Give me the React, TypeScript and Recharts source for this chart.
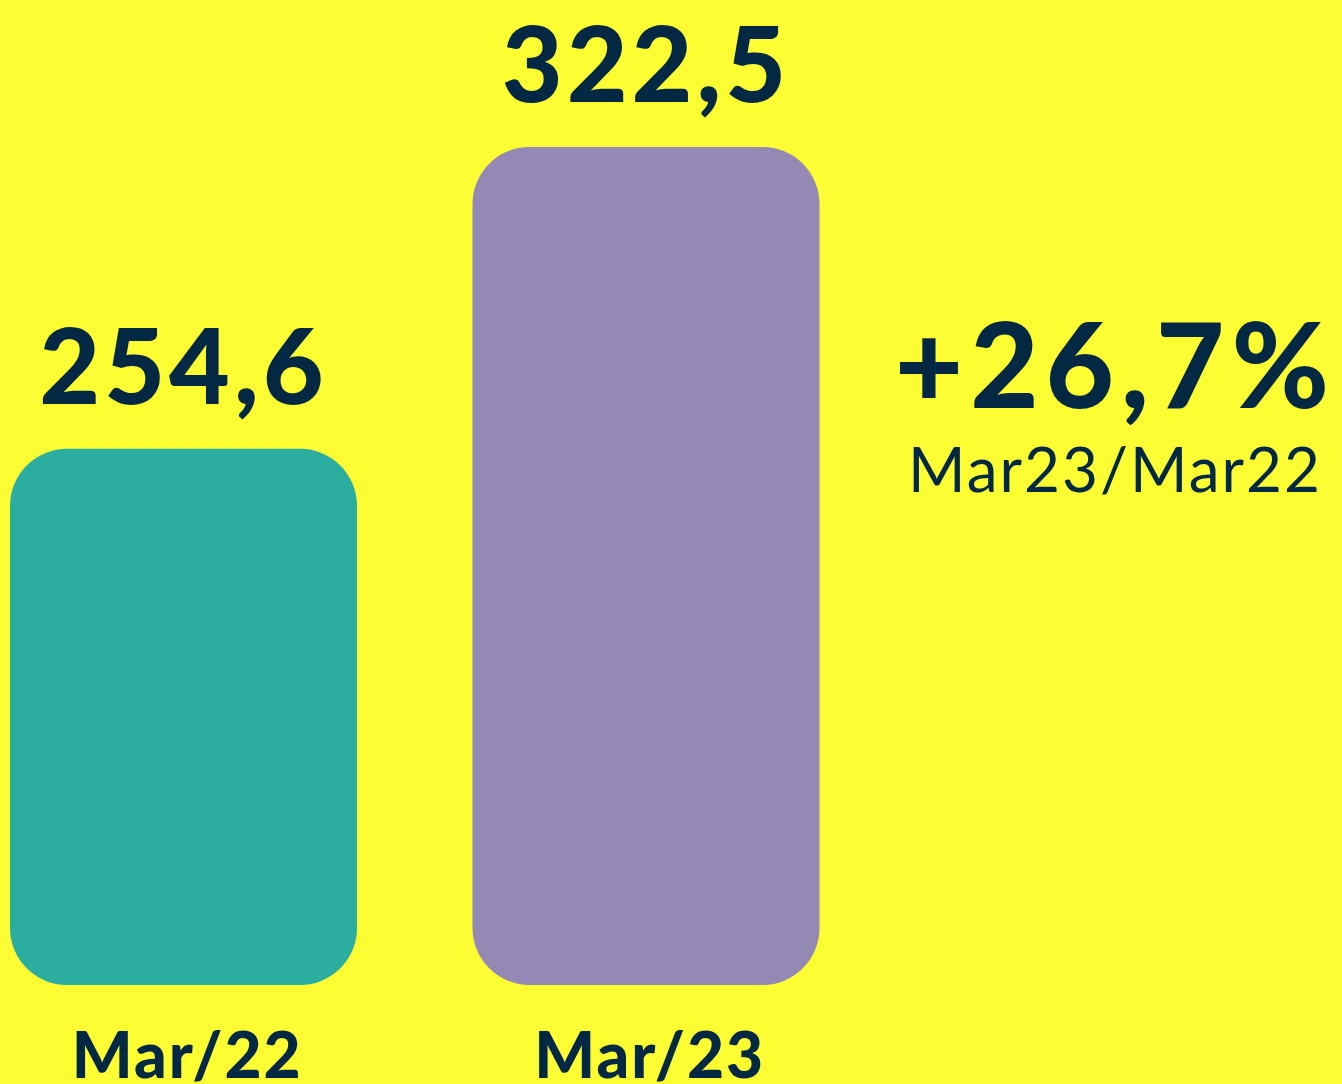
import React from 'react';
import { BarChart, Bar, XAxis, YAxis, Cell, LabelList } from 'recharts';

const categories = ['Mar/22', 'Mar/23'];
const values = [254.6, 322.5];
const changeLabel = '+26,7%';
const changeSubLabel = 'Mar23/Mar22';

const BAR_COLORS = ['#2BAEA0', '#9488B4'];
const NAVY = '#032844';
const BG = '#FDFD33';
const FONT = 'Lato, "Noto Sans", sans-serif';

const data = categories.map((name, i) => ({ name, value: values[i] }));

const fmt = (v: number) => v.toFixed(1).replace('.', ',');

const ValueLabel = (props: any) => {
  const { x, y, width, value } = props;
  return (
    <text
      x={x + width / 2}
      y={y - 45}
      textAnchor="middle"
      fill={NAVY}
      fontFamily={FONT}
      fontWeight={900}
      fontSize={105}
      letterSpacing={4}
    >
      {fmt(value)}
    </text>
  );
};

const CategoryTick = (props: any) => {
  const { x, y, payload } = props;
  return (
    <text
      x={x + 4}
      y={y + 93}
      textAnchor="middle"
      fill={NAVY}
      fontFamily={FONT}
      fontWeight={900}
      fontSize={64}
      letterSpacing={2}
    >
      {payload.value}
    </text>
  );
};

export default function App() {
  return (
    <div
      style={{
        position: 'absolute',
        left: 0,
        top: 0,
        width: 1342,
        height: 1084,
        background: BG,
        overflow: 'hidden',
      }}
    >
      <div style={{ position: 'absolute', left: -48, top: 0 }}>
        <BarChart
          width={1390}
          height={1084}
          data={data}
          margin={{ top: 147, right: 465, bottom: 0, left: 0 }}
          barCategoryGap={0}
        >
          <XAxis
            dataKey="name"
            height={99}
            axisLine={false}
            tickLine={false}
            tickSize={0}
            tickMargin={0}
            interval={0}
            tick={<CategoryTick />}
          />
          <YAxis hide domain={[134, 322.5]} allowDataOverflow />
          <Bar dataKey="value" barSize={347} radius={[57, 57, 57, 57]} isAnimationActive={false}>
            {data.map((d, i) => (
              <Cell key={d.name} fill={BAR_COLORS[i]} />
            ))}
            <LabelList dataKey="value" content={<ValueLabel />} />
          </Bar>
        </BarChart>
      </div>
      <svg
        width={1342}
        height={1084}
        style={{ position: 'absolute', left: 0, top: 0, pointerEvents: 'none' }}
      >
        <text x={1336} y={408} textAnchor="end" fill={NAVY} fontFamily={FONT} fontWeight={900} fontSize={118} letterSpacing={7}>
          {changeLabel}
        </text>
        <text x={1322} y={492} textAnchor="end" fill={NAVY} fontFamily={FONT} fontWeight={400} fontSize={62} letterSpacing={2}>
          {changeSubLabel}
        </text>
      </svg>
    </div>
  );
}
